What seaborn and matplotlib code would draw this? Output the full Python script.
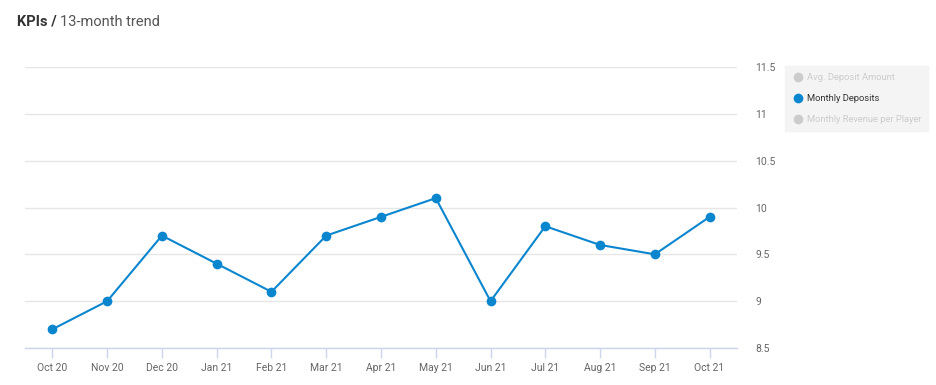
import pandas as pd
import matplotlib.pyplot as plt
import seaborn as sns
from matplotlib.lines import Line2D

# --- palette ---
LINE_BLUE = '#0a86cf'
GRID_GREY = '#e6e6e6'
AXIS_BLUE = '#ccd6eb'
LABEL_GREY = '#666666'
HIDDEN_GREY = '#cccccc'
LEGEND_BG = '#f2f2f2'

months = ['Oct 20', 'Nov 20', 'Dec 20', 'Jan 21', 'Feb 21', 'Mar 21', 'Apr 21',
          'May 21', 'Jun 21', 'Jul 21', 'Aug 21', 'Sep 21', 'Oct 21']
monthly_deposits = [8.7, 9.0, 9.7, 9.4, 9.1, 9.7, 9.9, 10.1, 9.0, 9.8, 9.6, 9.5, 9.9]
series_names = ['Avg. Deposit Amount', 'Monthly Deposits', 'Monthly Revenue per Player']
y_ticks = [8.5, 9, 9.5, 10, 10.5, 11, 11.5]

df = pd.DataFrame({'month': months, 'value': monthly_deposits})
df['pos'] = range(len(df))

sns.set_style('white')
plt.rcParams['font.family'] = ['Roboto', 'DejaVu Sans']

fig = plt.figure(figsize=(9.37, 3.85), dpi=100)
ax = fig.add_axes([25 / 937, 1 - 348 / 385, 712 / 937, 281 / 385])

sns.lineplot(data=df, x='pos', y='value', ax=ax, color=LINE_BLUE, lw=1.5,
             marker='o', markersize=7, markeredgewidth=0, zorder=3)

ax.set_xlim(-0.5, len(months) - 0.5)
ax.set_ylim(8.5, 11.5)
ax.set_xticks(df['pos'])
ax.set_xticklabels(months)
ax.set_yticks(y_ticks)
ax.set_yticklabels([f'{v:g}' for v in y_ticks])
ax.yaxis.tick_right()
ax.set_xlabel('')
ax.set_ylabel('')

ax.grid(axis='y', color=GRID_GREY, lw=1)
ax.set_axisbelow(True)
for side in ['top', 'left', 'right']:
    ax.spines[side].set_visible(False)
ax.spines['bottom'].set_color(AXIS_BLUE)
ax.spines['bottom'].set_linewidth(1)

ax.tick_params(axis='x', bottom=True, colors=AXIS_BLUE, length=7, width=1,
               direction='out', labelcolor=LABEL_GREY, labelsize=7.5, pad=4)
ax.tick_params(axis='y', length=0, labelcolor=LABEL_GREY, labelsize=7.5, pad=13)
for lab in ax.get_yticklabels():
    lab.set_horizontalalignment('left')

# title
fig.text(17 / 937, 1 - 22 / 385, 'KPIs /', fontsize=10.5, fontweight='bold',
         color='#333333', va='center', ha='left')
fig.text(60 / 937, 1 - 22 / 385, '13-month trend', fontsize=10.5,
         color='#555555', va='center', ha='left')

# legend
handles = []
for name in series_names:
    c = LINE_BLUE if name == 'Monthly Deposits' else HIDDEN_GREY
    handles.append(Line2D([], [], marker='o', color=c, lw=0, markersize=7,
                          markeredgewidth=0, label=name))
leg = fig.legend(handles=handles, loc='upper left',
                 bbox_to_anchor=(785 / 937, 1 - 66 / 385), frameon=True,
                 fontsize=6.75, handletextpad=0.35, borderpad=0.75,
                 labelspacing=1.3, handlelength=1.2, borderaxespad=0)
leg.get_frame().set_facecolor(LEGEND_BG)
leg.get_frame().set_edgecolor(LEGEND_BG)
leg.get_frame().set_boxstyle('square', pad=0)
for txt, name in zip(leg.get_texts(), series_names):
    txt.set_color('#333333' if name == 'Monthly Deposits' else HIDDEN_GREY)

fig.savefig('out.png', dpi=100, facecolor='white')
